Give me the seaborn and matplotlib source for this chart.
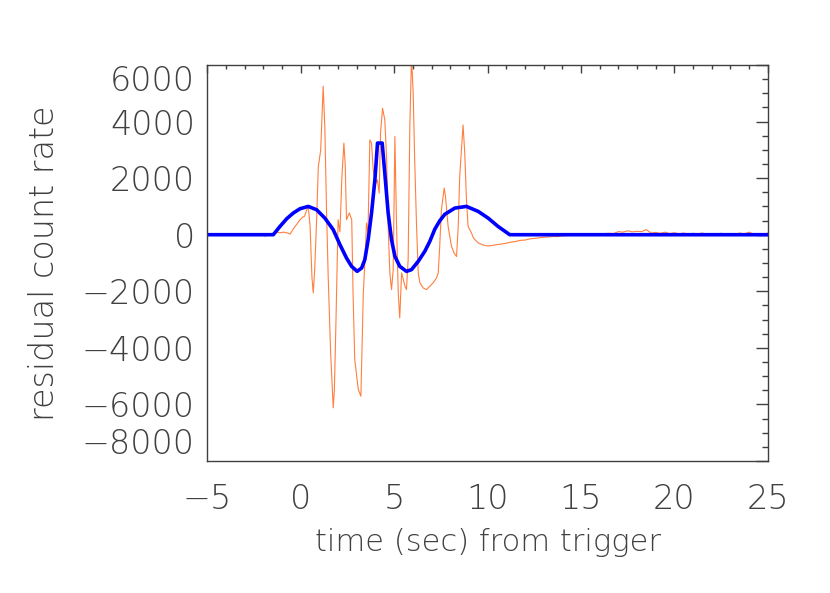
import matplotlib
matplotlib.use("Agg")
import matplotlib.pyplot as plt
import seaborn as sns
from matplotlib.ticker import MultipleLocator

# residual counts (orange)
resid_t = [-1.92, -1.75, -1.6, -1.47, -1.3, -1.1, -0.9, -0.7, -0.57, -0.45,
           -0.3, -0.2, -0.05, 0.1, 0.2, 0.32, 0.41, 0.5, 0.6, 0.67,
           0.75, 0.85, 0.94, 1.07, 1.2, 1.29, 1.38, 1.47, 1.6, 1.74,
           1.8, 1.88, 2.0, 2.1, 2.2, 2.31, 2.38, 2.45, 2.6, 2.73,
           2.8, 2.89, 3.08, 3.22, 3.28, 3.35, 3.44, 3.52, 3.6, 3.7,
           3.79, 3.88, 4.02, 4.1, 4.2, 4.27, 4.38, 4.5, 4.6, 4.68,
           4.77, 4.86, 4.95, 5.04, 5.13, 5.22, 5.3, 5.4, 5.49, 5.58,
           5.66, 5.75, 5.84, 5.93, 6.02, 6.1, 6.2, 6.29, 6.38, 6.55,
           6.73, 6.91, 7.09, 7.27, 7.36, 7.44, 7.53, 7.68, 7.75, 7.89,
           8.07, 8.21, 8.34, 8.43, 8.51, 8.69, 8.78, 8.87, 8.96, 9.14,
           9.25, 9.5, 9.75, 10.0, 10.25, 10.5, 10.75, 11.0, 11.25, 11.5,
           11.75, 12.0, 12.25, 12.5, 12.75, 13.0, 13.25, 13.5, 13.75, 14.0,
           14.25, 14.5, 14.75, 15.0, 15.25, 15.5, 15.75, 16.0, 16.25, 16.5,
           16.75, 17.0, 17.25, 17.5, 17.75, 18.0, 18.25, 18.5, 18.75, 19.0,
           19.25, 19.5, 19.75, 20.0, 20.25, 20.5, 20.75, 21.0, 21.25, 21.5,
           21.75, 22.0, 22.25, 22.5, 22.75, 23.0, 23.25, 23.5, 23.75, 24.0,
           24.25, 24.5, 24.75, 25.0]
resid_v = [-60, 20, 10, 60, 80, 70, 90, 60, 20, 150,
           300, 380, 520, 620, 650, 880, 950, 300, -1500, -2060,
           -1200, 530, 2400, 3000, 5250, 3800, 880, -1470, -4180, -6120,
           -5500, -3240, 530, 100, 2000, 3240, 2500, 530, 770, 530,
           -2060, -4410, -5470, -5710, -4000, -2060, -880, 410, 60, 3350,
           3240, 2290, 1820, 1940, 1470, 3590, 4470, 4060, 2650, 290,
           -1350, -1940, -1240, 3470, 290, -2060, -2940, -1350, -1590, -1820,
           -1940, -880, 3820, 6300, 5000, 2650, 290, -1350, -1700, -1880,
           -1940, -1820, -1700, -1530, -1350, -410, 880, 1650, 1350, 290,
           -410, -650, -770, 290, 2060, 3880, 2880, 1240, 290, 60,
           -120, -290, -360, -400, -380, -350, -330, -300, -260, -240,
           -200, -190, -150, -130, -110, -90, -80, -60, -70, -40,
           -30, -20, -30, 0, -10, 10, 0, 20, 40, 50,
           40, 110, 90, 140, 100, 120, 110, 180, 60, 80,
           50, 90, 40, 70, 30, 60, 20, 50, 30, 60,
           10, 40, 30, 50, 20, 40, 10, 60, 30, 90,
           20, 40, 10, 60]

# model curve (blue)
model_t = [-5, -1.47, -1.11, -0.75, -0.4, -0.04, 0.4, 0.85, 1.29, 1.74,
           2.1, 2.45, 2.72, 3.02, 3.26, 3.43, 3.61, 3.79, 3.97, 4.11,
           4.36, 4.5, 4.68, 4.86, 5.04, 5.3, 5.66, 5.93, 6.29, 6.64,
           6.91, 7.18, 7.45, 7.71, 8.25, 8.87, 9.5, 10.03, 10.56, 11.19, 25]
model_v = [0, 0, 294, 565, 766, 918, 1000, 883, 588, 177,
           -353, -824, -1118, -1295, -1177, -882, -176, 765, 1941, 3240,
           3240, 2176, 765, -176, -765, -1118, -1295, -1235, -941, -588,
           -235, 200, 500, 720, 942, 1000, 824, 588, 294, 0, 0]

x_ticks = [-5, 0, 5, 10, 15, 20, 25]
y_ticks = [-8000, -6000, -4000, -2000, 0, 2000, 4000, 6000]

sns.set_style("white")
plt.rcParams["font.family"] = ["DejaVu Sans"]
plt.rcParams["font.weight"] = "ultralight"
plt.rcParams["axes.unicode_minus"] = True

fig, ax = plt.subplots(figsize=(8.3, 5.93), dpi=100)
fig.subplots_adjust(left=0.2498, right=0.925, bottom=0.2226, top=0.8904)

sns.lineplot(x=resid_t, y=resid_v, color="#ff7f3f", linewidth=0.8, ax=ax)
sns.lineplot(x=model_t, y=model_v, color="#0000ff", linewidth=2.6, ax=ax)

ax.set_xlim(-5, 25)
ax.set_ylim(-8000, 6000)
ax.set_xticks(x_ticks)
ax.set_yticks(y_ticks)
ax.xaxis.set_minor_locator(MultipleLocator(1))
ax.yaxis.set_minor_locator(MultipleLocator(500))

txt = "#404040"
for s in ax.spines.values():
    s.set_visible(True)
    s.set_color("#404040")
    s.set_linewidth(1.0)

ax.tick_params(which="both", direction="in", top=True, right=True,
               color="#404040", labelcolor=txt, labelsize=24)
ax.tick_params(axis="y", which="major", length=8.5, width=1.0, pad=9)
ax.tick_params(axis="y", which="minor", length=4.3, width=1.0)
ax.tick_params(axis="x", which="major", length=6, width=1.0, pad=16)
ax.tick_params(axis="x", which="minor", length=3.2, width=1.0)

# IDL-style: end labels are kept inside the axis range
yt = ax.yaxis.get_major_ticks()
yt[0].label1.set_va("bottom")
yt[-1].label1.set_va("top")

ax.set_xlabel("time (sec) from trigger", fontsize=22, color=txt, fontweight="ultralight")
ax.set_ylabel("residual count rate", fontsize=24, color=txt, fontweight="ultralight")
ax.xaxis.set_label_coords(0.5, -0.17)
ax.yaxis.set_label_coords(-0.262, 0.5)

fig.savefig("out.png", dpi=100)
